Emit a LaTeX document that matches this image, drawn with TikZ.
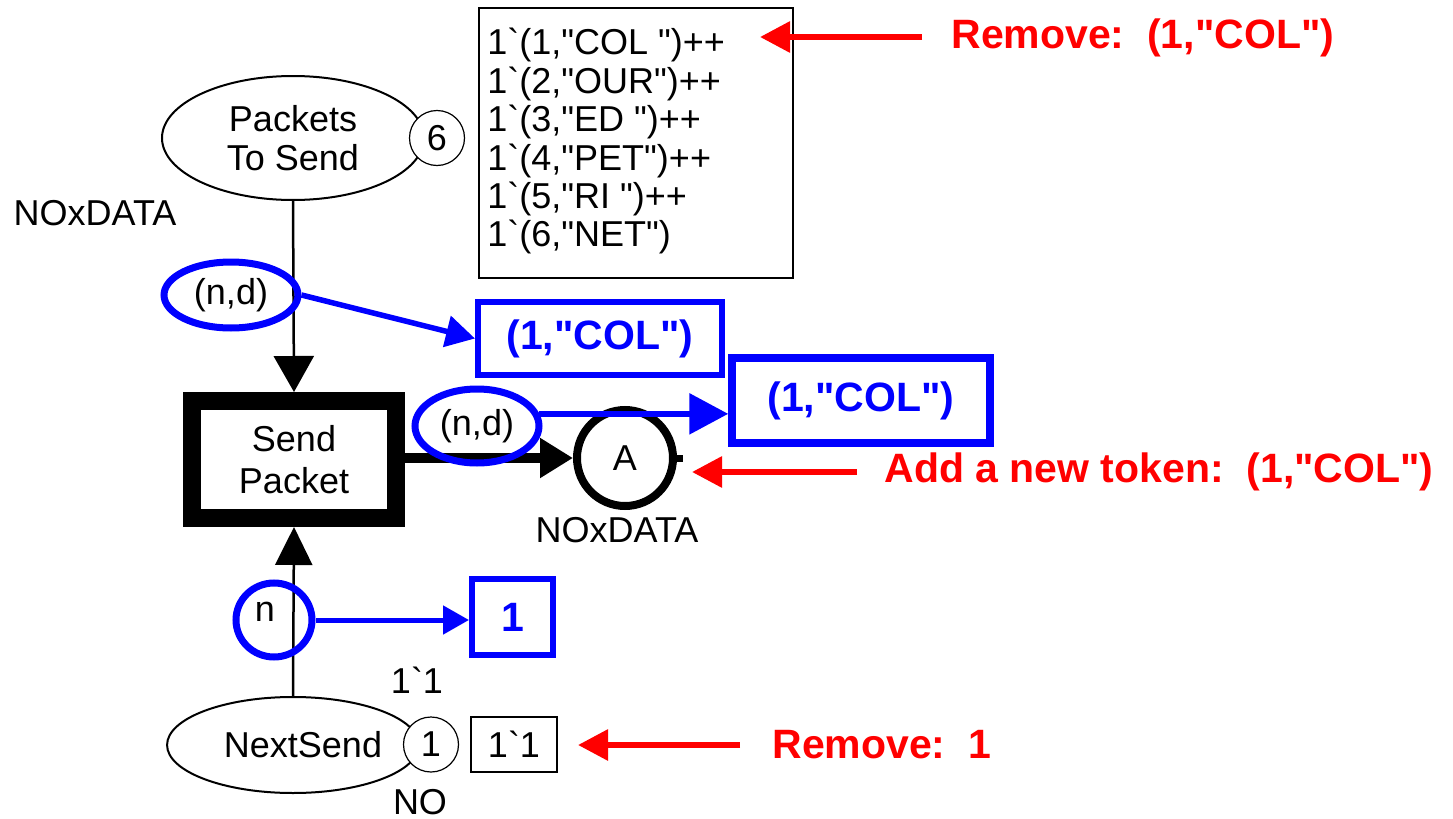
\documentclass[tikz,border=0pt]{standalone}
\usepackage{fontspec}
\newfontfamily\arial{Liberation Sans}
\usetikzlibrary{arrows.meta,shapes.geometric}
\begin{document}
\begin{tikzpicture}[x=0.5pt,y=-0.5pt,
  font=\arial\fontsize{18}{19.2}\selectfont,
  place/.style={ellipse, draw, line width=1pt, inner sep=0pt, align=center},
  tok/.style={circle, draw, line width=0.6pt, fill=white, inner sep=0pt, minimum size=27.5pt},
  lbl/.style={inner sep=0pt},
  bluering/.style={ellipse, draw=blue, line width=3.5pt, inner sep=0pt},
  bluebox/.style={draw=blue, text=blue, font=\arial\bfseries\fontsize{20.5}{24}\selectfont, inner sep=0pt},
  bluearrow/.style={draw=blue, line width=2.75pt, -{Triangle[length=14.5pt,width=15.5pt]}},
  redarrow/.style={draw=red, line width=3pt, -{Triangle[length=15pt,width=15pt]}},
  redtext/.style={text=red, font=\arial\bfseries\fontsize{20.5}{24}\selectfont, anchor=west, inner sep=0pt},
  arc/.style={line width=1.25pt}
]
\useasboundingbox (0,0) rectangle (1453,819);

% places
\node[place, minimum width=131pt, minimum height=62pt] (pk) at (293,138) {Packets\\To Send};
\node[tok] (t6) at (437,138) {6};
\node[lbl] (pkcol) at (95,213) {NOxDATA};

\node[draw, line width=1.2pt, minimum width=157pt, minimum height=135pt, inner sep=0pt] (ms) at (636,143) {};
\node[lbl, anchor=north west, align=left] (mstext) at (487,28)
  {1`(1,"COL ")++\\1`(2,"OUR")++\\1`(3,"ED ")++\\1`(4,"PET")++\\1`(5,"RI ")++\\1`(6,"NET")};

% transition
\node[draw, line width=9pt, minimum width=102pt, minimum height=58.5pt, inner sep=0pt,
      align=center, font=\arial\fontsize{18}{21}\selectfont] (tr) at (294,459.5) {Send\\Packet};

% place A
\node[circle, draw, line width=4pt, minimum size=48pt, inner sep=0pt] (A) at (625,458) {A};
\node[lbl] (Acol) at (617,530) {NOxDATA};

% NextSend
\node[place, minimum width=119pt, minimum height=48pt] (ns) at (293,745) {\hspace{10pt}NextSend};
\node[tok] (t1) at (431,744.5) {1};
\node[draw, line width=1.2pt, minimum width=43pt, minimum height=27.5pt, inner sep=0pt] (mk) at (514,744.5) {1`1\hspace{11pt}};
\node[lbl] (init) at (417,680) {1`1};
\node[lbl] (nscol) at (420,802) {NO};

% black arcs
\draw[arc, -{Triangle[length=18pt,width=20pt]}] (pk.south) -- (tr.north);
\draw[line width=5pt, -{Triangle[length=16.5pt,width=19pt]}] (tr.east |- A.west) -- (A.west);
\draw[line width=3.5pt] (A.east) -- ++(6,0);
\draw[arc, -{Triangle[length=19pt,width=18.5pt]}] (ns.north) -- (tr.south);

% blue annotations
\node[bluering, minimum width=67pt, minimum height=33pt] (e1) at (231,295) {(n,d)};
\node[bluebox, line width=3pt, minimum width=122pt, minimum height=36.5pt] (b1) at (600,338.5) {(1,"COL")\hspace{11pt}};
\draw[bluearrow] (e1.east) -- (b1.west);

\node[bluering, minimum width=62pt, minimum height=37pt] (e2) at (477,426) {(n,d)\hspace{7pt}};
\node[bluebox, line width=3.75pt, minimum width=129pt, minimum height=42.5pt] (b2) at (861,400.5) {(1,"COL")};
\draw[bluearrow, line width=3pt, -{Triangle[length=19.5pt,width=20pt]}] (e2.11) -- (e2.11 -| b2.west);

\node[bluering, minimum width=38pt, minimum height=37pt] (en) at (274,620) {};
\node[lbl] (nlab) at (265,612) {n};
\node[bluebox, line width=3pt, minimum width=40.5pt, minimum height=38pt] (b3) at (512.5,617) {1};
\draw[bluearrow, line width=2.5pt, -{Triangle[length=13pt,width=14pt]}] (en.east) -- (en.east -| b3.west);

% red annotations
\coordinate (r1t) at (922,37);
\coordinate (r1h) at (760,37);
\draw[redarrow] (r1t) -- (r1h);
\node[redtext] (rt1) at (951,38) {Remove:\ \ (1,"COL")};

\coordinate (r2t) at (857,472);
\coordinate (r2h) at (692,472);
\draw[redarrow] (r2t) -- (r2h);
\node[redtext] (rt2) at (884,472) {Add a new token:\ \ (1,"COL")};

\coordinate (r3t) at (740,745);
\coordinate (r3h) at (578,745);
\draw[redarrow] (r3t) -- (r3h);
\node[redtext] (rt3) at (772,745) {Remove:\ \ 1};
\end{tikzpicture}
\end{document}
